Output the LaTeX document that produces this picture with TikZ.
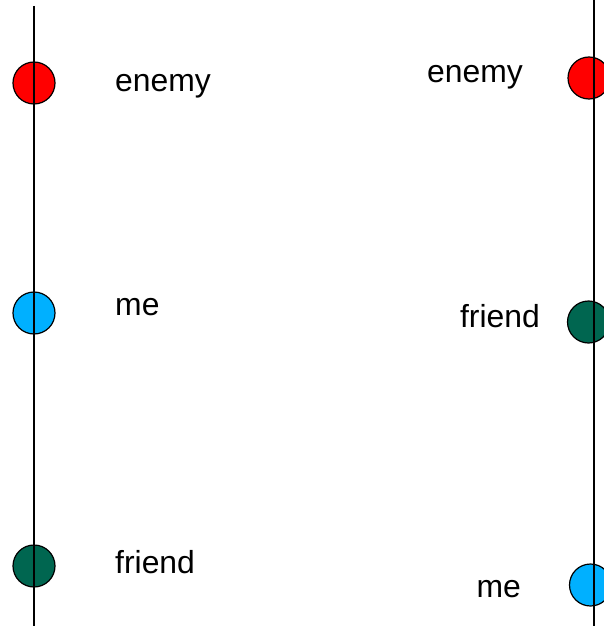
\documentclass[tikz,border=0pt]{standalone}
\usepackage{fontspec}
\setmainfont{Liberation Sans}
\definecolor{cred}{RGB}{255,0,0}
\definecolor{cblue}{RGB}{0,176,255}
\definecolor{cgreen}{RGB}{0,102,80}
\begin{document}
\begin{tikzpicture}[x=1bp,y=-1bp,
  dot/.style={circle,draw=black,line width=1.2bp,minimum size=42bp,inner sep=0pt},
  lbl/.style={font=\fontsize{32}{38}\selectfont,inner sep=0pt},
  axis/.style={line width=1.4bp,black}]
\useasboundingbox (0,0) rectangle (604,626);
% left column
\node[dot,fill=cred]   (le) at (34,83) {};
\node[dot,fill=cblue]  (lm) at (34,313) {};
\node[dot,fill=cgreen] (lf) at (34,566) {};
\coordinate (lt) at (34,6);
\coordinate (lb) at (34,626);
\draw[axis] (lt) -- (lb);
\node[lbl,anchor=base west] (tle) at (115,92) {enemy};
\node[lbl,anchor=base west] (tlm) at (115,315) {me};
\node[lbl,anchor=base west] (tlf) at (115,573) {friend};
% right column
\node[dot,fill=cred]   (re) at (589,78) {};
\node[dot,fill=cgreen] (rf) at (588.5,322) {};
\node[dot,fill=cblue]  (rm) at (590.5,585) {};
\coordinate (rt) at (594,0);
\coordinate (rb) at (594,626);
\draw[axis] (rt) -- (rb);
\node[lbl,anchor=base east] (tre) at (523,83) {enemy};
\node[lbl,anchor=base east] (trf) at (540,327) {friend};
\node[lbl,anchor=base east] (trm) at (521,597) {me};
\end{tikzpicture}
\end{document}
